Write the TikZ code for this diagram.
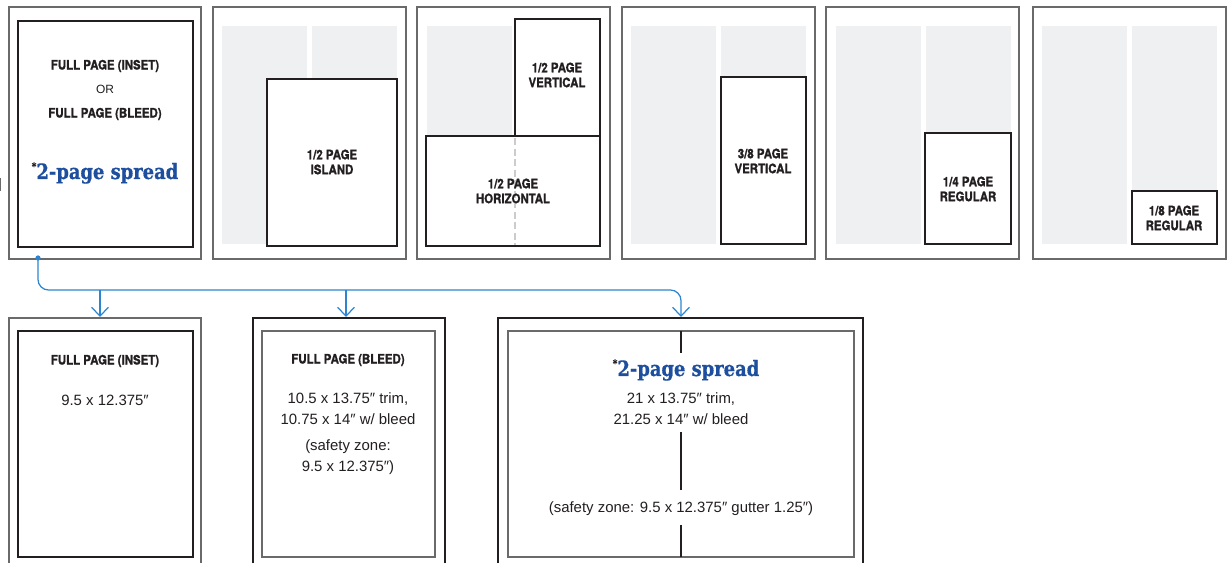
\documentclass[tikz,border=0pt]{standalone}
\usepackage{fontspec}
\setmainfont{Liberation Sans}
\newfontfamily\headfont[FakeStretch=0.88,BoldFeatures={FakeBold=1.3}]{TeX Gyre Heros}
\newfontfamily\slabfont[FakeStretch=0.85,BoldFeatures={FakeBold=0.6}]{DejaVu Serif}
\usetikzlibrary{arrows.meta}

\definecolor{colgray}{HTML}{EFF0F2}
\definecolor{framegray}{HTML}{6A6A6A}
\definecolor{inkblack}{HTML}{231F20}
\definecolor{linkblue}{HTML}{2C85CE}
\definecolor{spreadblue}{HTML}{1D4F9E}

\newcommand{\spreadstar}{\raisebox{0.42em}{\color{inkblack}\fontsize{6}{6}\selectfont *}}

\tikzset{
  frame/.style={draw=framegray,line width=0.6pt},
  heavyframe/.style={draw=inkblack,line width=1.3pt},
  adbox/.style={draw=inkblack,line width=1.3pt,fill=white},
  col/.style={fill=colgray},
  guide/.style={draw=black!20,line width=0.7pt,dashed,dash pattern=on 4pt off 2pt},
  lbl/.style={inner sep=0pt,align=center,text=inkblack,font=\headfont\bfseries\fontsize{7.4}{8.5}\selectfont},
  body/.style={inner sep=0pt,align=center,text=inkblack,font=\fontsize{8.5}{11.9}\selectfont},
  spread/.style={inner sep=0pt,text=spreadblue,font=\slabfont\bfseries\fontsize{12}{13}\selectfont},
  link/.style={draw=linkblue,line width=0.7pt,-{Straight Barb[length=5pt,width=9.5pt]}}
}

\begin{document}
\begin{tikzpicture}[x=0.02cm,y=-0.02cm]
\useasboundingbox (0,0) rectangle (1232,563);
\clip (0,0) rectangle (1232,563);

% Top row page frames
\foreach \xa/\xb in {9/201,213/406,417/610,622/815,826/1019,1033/1226}
  \draw[frame] (\xa,7) rectangle (\xb,259);
\draw[frame] (0.6,178) -- (0.6,191);

% Gray text columns
\foreach \xa in {222,631,836,1042} {
  \fill[col] (\xa,26) rectangle ++(85,218);
  \fill[col] (\xa+90,26) rectangle ++(85,218);
}
\fill[col] (427,26) rectangle (512,244);

% Full page / spread
\draw[adbox] (18,21) rectangle (193,247);
\node[lbl] (fullinset) at (105,66) {FULL PAGE (INSET)};
\node[body,font=\fontsize{6.8}{8}\selectfont] (orword) at (105,89) {OR};
\node[lbl] (fullbleed) at (105,114) {FULL PAGE (BLEED)};
\node[spread] (spreadlbl) at (105,173) {\spreadstar 2-page spread};

% Ad boxes
\draw[adbox] (267,79) rectangle (397,246);
\node[lbl] (island) at (332,162) {1/2 PAGE\\ISLAND};

\draw[adbox] (515,19) rectangle (600,136);
\draw[adbox] (426,136) rectangle (600,246);
\draw[guide] (515,138) -- (515,245);
\node[lbl] (halfvert) at (557,75) {1/2 PAGE\\VERTICAL};
\node[lbl] (halfhoriz) at (513,191) {1/2 PAGE\\HORIZONTAL};

\draw[adbox] (721,77) rectangle (806,244);
\node[lbl] (threeeighth) at (763,161) {3/8 PAGE\\VERTICAL};

\draw[adbox] (925,133) rectangle (1011,244);
\node[lbl] (quarter) at (968,189) {1/4 PAGE\\REGULAR};

\draw[adbox] (1132,191) rectangle (1217,244);
\node[lbl] (eighth) at (1174,218) {1/8 PAGE\\REGULAR};

% Bottom row: size details
\draw[frame] (9,318) rectangle (201,580);
\draw[adbox] (18,331) rectangle (193,557);
\node[lbl] (insethead) at (105,361) {FULL PAGE (INSET)};
\node[body] (insetsize) at (105,400) {9.5 x 12.375″};

\draw[heavyframe] (253,318) rectangle (445,580);
\draw[frame] (262,331) rectangle (435,557);
\node[lbl] (bleedhead) at (348,360) {FULL PAGE (BLEED)};
\node[body] (bleedsize) at (348,409) {10.5 x 13.75″ trim,\\10.75 x 14″ w/ bleed};
\node[body] (bleedsafe) at (348,457) {(safety zone:\\9.5 x 12.375″)};

\draw[heavyframe] (498,318) rectangle (863,580);
\draw[frame] (508,331) rectangle (854,557);
\draw[heavyframe,line width=1.1pt] (681,331) -- (681,353) (681,432) -- (681,490) (681,525) -- (681,557);
\node[spread] (spreadhead) at (686,370) {\spreadstar 2-page spread};
\node[body] (spreadsize) at (681,409) {21 x 13.75″ trim,\\21.25 x 14″ w/ bleed};
\node[body] (spreadsafe) at (681,509) {(safety zone: 9.5 x 12.375″ gutter 1.25″)};

% Connector
\coordinate (src) at (38,258);
\coordinate (bus) at (0,290);
\coordinate (insettop) at (100,317);
\coordinate (bleedtop) at (346,317);
\coordinate (spreadtop) at (681,317);
\fill[linkblue] (src) circle (2.6);
\draw[link,rounded corners=6] (src) |- (bus -| spreadtop) -- (spreadtop);
\draw[link] (insettop |- bus) -- (insettop);
\draw[link] (bleedtop |- bus) -- (bleedtop);

\end{tikzpicture}
\end{document}
